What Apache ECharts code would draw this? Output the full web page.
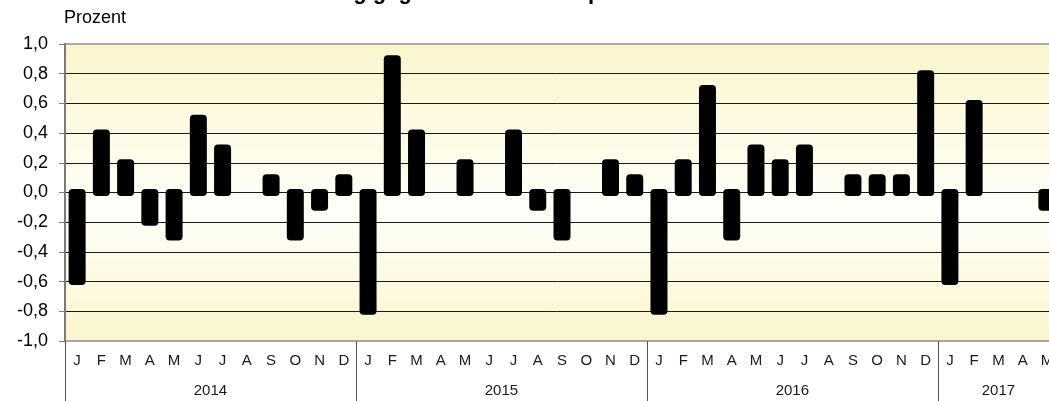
<!DOCTYPE html>
<html>
<head>
<meta charset="utf-8">
<script src="https://cdn.jsdelivr.net/npm/echarts@6/dist/echarts.min.js"></script>
<style>
html,body{margin:0;padding:0;background:#fff;}
#c{width:1049px;height:401px;}
</style>
</head>
<body>
<div id="c"></div>
<script>
var titleText = 'Veränderung gegenüber dem entsprechenden Vormonat';
var unitText = 'Prozent';
var monthNames = ['J','F','M','A','M','J','J','A','S','O','N','D'];
var years = ['2014','2015','2016','2017'];
var values2014 = [-0.6, 0.4, 0.2, -0.2, -0.3, 0.5, 0.3, 0, 0.1, -0.3, -0.1, 0.1];
var values2015 = [-0.8, 0.9, 0.4, 0, 0.2, 0, 0.4, -0.1, -0.3, 0, 0.2, 0.1];
var values2016 = [-0.8, 0.2, 0.7, -0.3, 0.3, 0.2, 0.3, 0, 0.1, 0.1, 0.1, 0.8];
var values2017 = [-0.6, 0.6, 0, 0, -0.1];

var yearValues = [values2014, values2015, values2016, values2017];
var categories = [];
var barData = [];
var yearLabelPos = {};
var pos = 0;
yearValues.forEach(function (vals, yi) {
  yearLabelPos[(pos + vals.length / 2).toFixed(1)] = years[yi];
  vals.forEach(function (v, mi) {
    categories.push(monthNames[mi] + '_' + years[yi]);
    barData.push([categories.length - 1, v]);
  });
  pos += vals.length;
});
var total = categories.length;

var font = 'Arial, "Liberation Sans", sans-serif';
var chart = echarts.init(document.getElementById('c'), null, {renderer: 'canvas'});
chart.setOption({
  animation: false,
  backgroundColor: '#ffffff',
  graphic: [
    {type: 'text', x: 526, y: 4, style: {text: titleText, font: 'bold 22px ' + font, fill: '#000',
      textAlign: 'center', textVerticalAlign: 'bottom', align: 'center', verticalAlign: 'bottom'}},
    {type: 'text', x: 64, y: 18, style: {text: unitText, font: '18px ' + font, fill: '#000',
      textAlign: 'left', textVerticalAlign: 'middle', align: 'left', verticalAlign: 'middle'}}
  ],
  grid: {
    left: 65, top: 44, width: 994, height: 297,
    outerBoundsMode: 'none',
    containLabel: false,
    show: true,
    borderWidth: 2,
    borderColor: '#a8a8a8',
    backgroundColor: {
      type: 'linear', x: 0, y: 0, x2: 0, y2: 1,
      colorStops: [
        {offset: 0, color: '#faf5cc'},
        {offset: 0.56, color: '#fffffa'},
        {offset: 1, color: '#faf5cc'}
      ]
    }
  },
  xAxis: [
    {
      type: 'category', data: categories, position: 'bottom',
      axisLine: {show: false}, axisTick: {show: false}, splitLine: {show: false},
      axisLabel: {interval: 0, margin: 12, fontFamily: font, fontSize: 15, color: '#1a1a1a',
        formatter: function (v) { return v.split('_')[0]; }}
    },
    {
      type: 'value', min: 0, max: total, interval: 0.5, position: 'bottom',
      axisLine: {show: false}, axisTick: {show: false}, splitLine: {show: false},
      axisLabel: {margin: 42, fontFamily: font, fontSize: 15, color: '#1a1a1a', showMinLabel: true, showMaxLabel: true,
        formatter: function (v) { var k = Number(v).toFixed(1); return yearLabelPos[k] || ''; }}
    },
    {
      type: 'value', min: 0, max: total, interval: 12, position: 'bottom',
      axisLine: {show: false}, splitLine: {show: false},
      axisTick: {show: true, length: 62, inside: false, lineStyle: {color: '#555', width: 1}},
      axisLabel: {show: false}
    }
  ],
  yAxis: {
    type: 'value', min: -1, max: 1, interval: 0.2,
    axisLine: {show: true, lineStyle: {color: '#7a7a7a', width: 2}},
    axisTick: {show: true, length: 6, lineStyle: {color: '#7a7a7a', width: 1}},
    axisLabel: {margin: 17, fontFamily: font, fontSize: 18, color: '#000',
      formatter: function (v) { return Number(v).toFixed(1).replace('.', ','); }},
    splitLine: {show: true, lineStyle: {color: ['#a8a8a8', '#1a1a1a', '#1a1a1a', '#1a1a1a', '#1a1a1a', '#1a1a1a', '#1a1a1a', '#1a1a1a', '#1a1a1a', '#1a1a1a', '#a8a8a8'], width: 1}}
  },
  series: [{
    type: 'custom', xAxisIndex: 0, yAxisIndex: 0,
    data: barData,
    encode: {x: 0, y: 1},
    renderItem: function (params, api) {
      var v = api.value(1);
      if (!v) { return null; }
      var c = api.value(0);
      var p0 = api.coord([c, 0]);
      var p1 = api.coord([c, v]);
      var w = 17, ext = 3.5;
      var top = Math.min(p0[1], p1[1]) - ext;
      var bottom = Math.max(p0[1], p1[1]) + ext;
      return {type: 'rect', shape: {x: p0[0] - w / 2, y: top, width: w, height: bottom - top, r: 4},
        style: {fill: '#000'}};
    }
  }]
});
</script>
</body>
</html>
